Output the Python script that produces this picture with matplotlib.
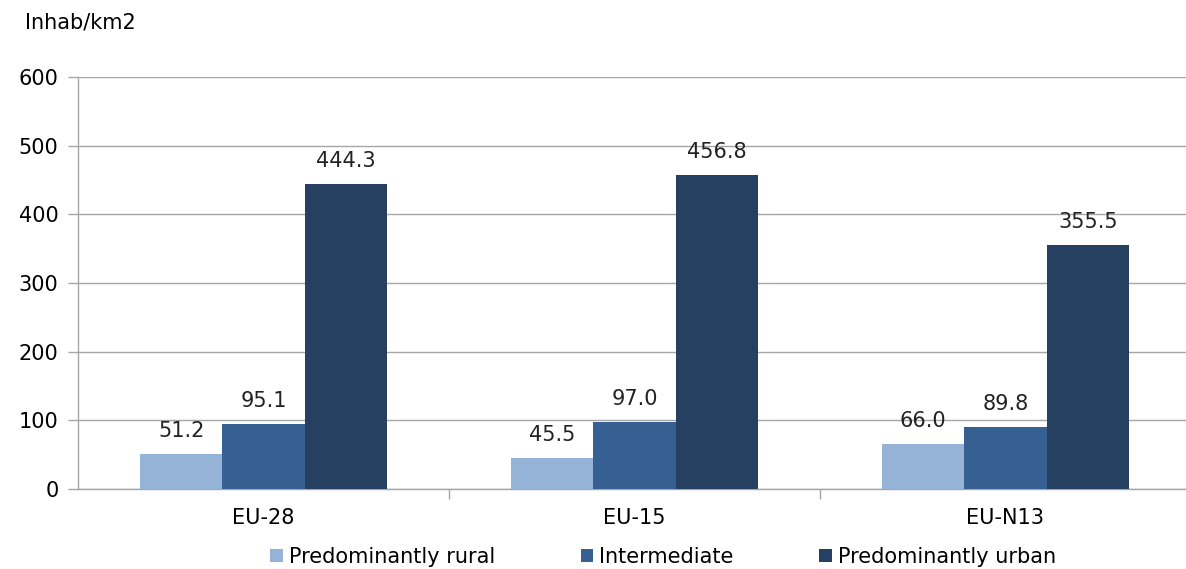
import matplotlib.pyplot as plt
import numpy as np

# data
regions = ['EU-28', 'EU-15', 'EU-N13']
series = ['Predominantly rural', 'Intermediate', 'Predominantly urban']
rural = [51.2, 45.5, 66.0]
intermediate = [95.1, 97.0, 89.8]
urban = [444.3, 456.8, 355.5]
colors = ['#95b3d7', '#366092', '#254061']

plt.rcParams['font.family'] = 'DejaVu Sans'
fs = 15

fig = plt.figure(figsize=(11.86, 5.69), dpi=100)
ax = fig.add_axes([78 / 1186, 1 - 489 / 569, 1113 / 1186, 412 / 569])

x = np.arange(len(regions))
w = 0.222
for i, (vals, name) in enumerate(zip([rural, intermediate, urban], series)):
    pos = x + (i - 1) * w
    ax.bar(pos, vals, width=w, color=colors[i], label=name, zorder=3)
    for p, v in zip(pos, vals):
        ax.text(p, v + 19, f'{v:.1f}', ha='center', va='bottom',
                fontsize=fs, color='#222222')

ax.set_xlim(-0.5, 2.5)
ax.set_ylim(0, 600)
ax.set_yticks(range(0, 601, 100))
ax.yaxis.grid(True, color='#a6a6a6', linewidth=1.0, zorder=0)
ax.set_xticks(x)
ax.set_xticklabels(regions, fontsize=fs)
ax.tick_params(axis='x', length=0, pad=14)
ax.tick_params(axis='y', labelsize=fs, length=7, color='#a6a6a6', width=1.0, pad=7)
# category separators below the axis
ax.set_xticks([0.5, 1.5], minor=True)
ax.tick_params(axis='x', which='minor', length=7, color='#a6a6a6', width=1.0)

for s in ['top', 'right']:
    ax.spines[s].set_visible(False)
for s in ['left', 'bottom']:
    ax.spines[s].set_color('#a6a6a6')
    ax.spines[s].set_linewidth(1.0)

fig.text(25 / 1186, 1 - 22 / 569, 'Inhab/km2', fontsize=fs, va='center', ha='left')

fig.legend(loc='center', bbox_to_anchor=(663 / 1186, 1 - 557 / 569), ncol=3,
           frameon=False, fontsize=fs, handlelength=0.6, handleheight=0.6,
           handletextpad=0.3, columnspacing=4.1)

fig.savefig('out.png', dpi=100)
